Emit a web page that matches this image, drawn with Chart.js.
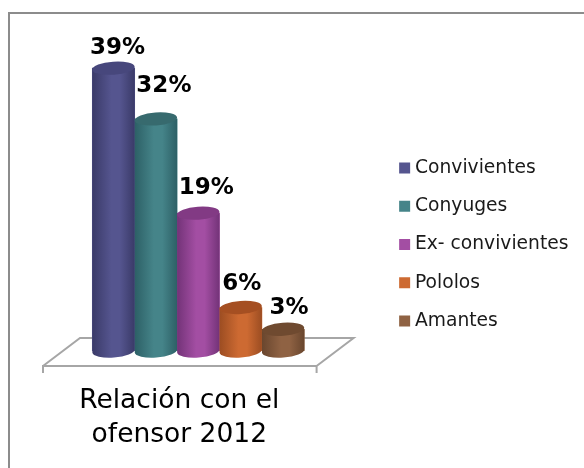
<!DOCTYPE html>
<html>
<head>
<meta charset="utf-8">
<script src="https://cdn.jsdelivr.net/npm/chart.js@4"></script>
<style>
  html, body { margin: 0; padding: 0; background: #fff; }
  #wrap { position: relative; width: 584px; height: 468px; overflow: hidden; }
  #frame { position: absolute; left: 8px; top: 12px; width: 576px; height: 456px; border-top: 2px solid #8c8c8c; border-left: 2px solid #8c8c8c; box-sizing: border-box; }
  canvas { position: absolute; left: 0; top: 0; }
</style>
</head>
<body>
<div id="wrap">
  <div id="frame"></div>
  <canvas id="grafico" width="584" height="468"></canvas>
</div>
<script>
const categorias = [['Relación con el', 'ofensor 2012']];
const series = ['Convivientes', 'Conyuges', 'Ex- convivientes', 'Pololos', 'Amantes'];
const valores = [39, 32, 19, 6, 3];
const colores = ['#55558f', '#458489', '#a34ea3', '#cd6a32', '#8f6243'];
const oscuros = ['#3a3a68', '#2d6066', '#733378', '#9c4d22', '#69462e'];
const tapas = ['#47477c', '#376a6e', '#823a84', '#a54f22', '#6f4a30'];

const fuente = '"DejaVu Sans", sans-serif';

// piso del grafico 3D, sale del area del chart
const pisoPlugin = {
  id: 'piso',
  beforeDatasetsDraw(chart) {
    const { ctx, chartArea: a } = chart;
    const izq = a.left + 30.5, der = a.right - 30.5, y = a.bottom;
    ctx.save();
    ctx.strokeStyle = '#a6a6a6';
    ctx.lineWidth = 2;
    ctx.beginPath();
    ctx.moveTo(izq, y + 22);
    ctx.lineTo(izq, y + 15);
    ctx.lineTo(der - 37, y + 15);
    ctx.lineTo(der - 37, y + 22);
    ctx.moveTo(izq, y + 15);
    ctx.lineTo(izq + 37, y - 13);
    ctx.lineTo(der, y - 13);
    ctx.lineTo(der - 37, y + 15);
    ctx.stroke();
    ctx.restore();
  }
};

// cilindros encima de las barras y etiquetas con %
const cilindrosPlugin = {
  id: 'cilindros',
  afterDatasetsDraw(chart) {
    const ctx = chart.ctx;
    const ajusteX = [-2, 2, 2, -5, 0];
    const ajusteY = [3, -10, -2, 0, 2];
    chart.data.datasets.forEach((ds, i) => {
      const bar = chart.getDatasetMeta(i).data[0];
      const x0 = bar.x - bar.width / 2, x1 = bar.x + bar.width / 2;
      const ry = 6.5, inclina = -0.07;
      const grad = ctx.createLinearGradient(x0, 0, x1, 0);
      grad.addColorStop(0, oscuros[i]);
      grad.addColorStop(0.45, colores[i]);
      grad.addColorStop(0.65, colores[i]);
      grad.addColorStop(1, oscuros[i]);
      ctx.save();
      ctx.fillStyle = grad;
      ctx.beginPath();
      ctx.ellipse(bar.x, bar.base, bar.width / 2, ry, inclina, 0, Math.PI);
      ctx.lineTo(x0, bar.y);
      ctx.lineTo(x1, bar.y);
      ctx.closePath();
      ctx.fill();
      ctx.fillStyle = tapas[i];
      ctx.beginPath();
      ctx.ellipse(bar.x, bar.y, bar.width / 2, ry, inclina, 0, Math.PI * 2);
      ctx.fill();
      ctx.restore();
    });
    ctx.save();
    ctx.fillStyle = '#000';
    ctx.font = 'bold 23px ' + fuente;
    ctx.textAlign = 'center';
    ctx.textBaseline = 'middle';
    chart.data.datasets.forEach((ds, i) => {
      const bar = chart.getDatasetMeta(i).data[0];
      ctx.fillText(ds.data[0] + '%', bar.x + 6 + ajusteX[i], bar.y - 23 + ajusteY[i]);
    });
    ctx.restore();
  }
};

new Chart(document.getElementById('grafico'), {
  type: 'bar',
  data: {
    labels: categorias,
    datasets: series.map((nombre, i) => ({
      label: nombre,
      data: [valores[i]],
      backgroundColor: colores[i],
      barThickness: 42.4
    }))
  },
  options: {
    responsive: false,
    animation: false,
    devicePixelRatio: 1,
    layout: { padding: { left: 12.5, right: 5.5, top: 21, bottom: 0 } },
    plugins: {
      legend: {
        position: 'right',
        labels: {
          usePointStyle: true,
          pointStyle: 'rect',
          boxWidth: 2,
          boxHeight: 11,
          padding: 19.55,
          color: '#1a1a1a',
          font: { family: fuente, size: 18.7 }
        }
      },
      tooltip: { enabled: false }
    },
    scales: {
      x: {
        afterFit(scale) { scale.height = 117; },
        grid: { display: false, drawTicks: false },
        border: { display: false },
        ticks: {
          padding: 33,
          maxRotation: 0,
          labelOffset: -19,
          color: '#000',
          font: { family: fuente, size: 26.5, lineHeight: 1.28 }
        }
      },
      y: { display: false, min: 0, max: 45.5 }
    }
  },
  plugins: [pisoPlugin, cilindrosPlugin]
});
</script>
</body>
</html>
